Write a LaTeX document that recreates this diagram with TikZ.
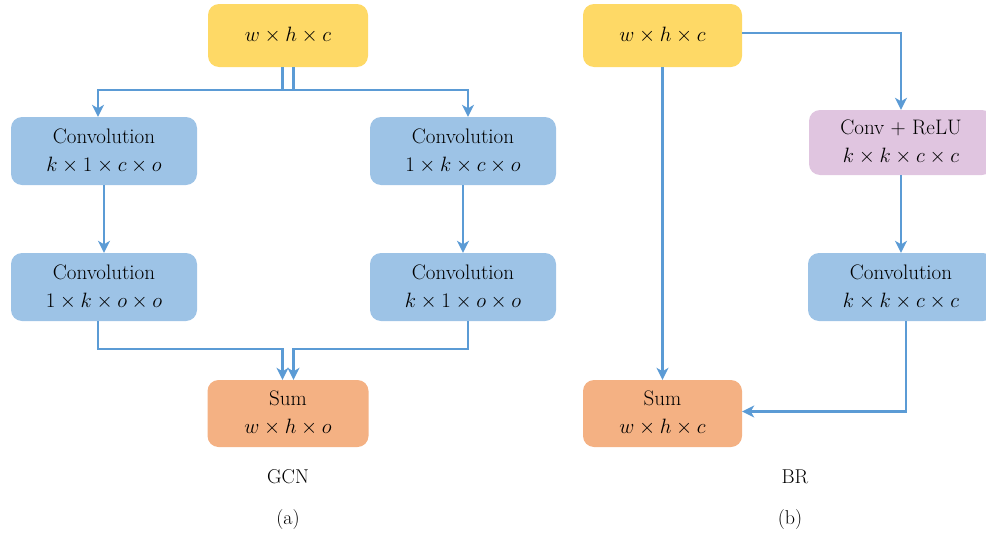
\documentclass[tikz,border=0pt]{standalone}
\usepackage{fontspec}
\usetikzlibrary{arrows.meta,calc}
\definecolor{yel}{HTML}{FED966}
\definecolor{blu}{HTML}{9DC3E6}
\definecolor{ora}{HTML}{F4B183}
\definecolor{pnk}{HTML}{E0C5E0}
\definecolor{lin}{HTML}{5B9BD5}
\begin{document}
\begin{tikzpicture}[x=1pt,y=-1pt,
 box/.style={rectangle, rounded corners=11pt, align=center, inner sep=0pt, font=\fontsize{21}{28}\selectfont},
 lbl/.style={inner sep=0pt, font=\fontsize{20}{22}\selectfont},
 conn/.style={draw=lin, line width=2.2pt, -{Stealth[length=12pt,width=12pt,inset=3.5pt]}}]
\useasboundingbox (0,0) rectangle (986,533);
\clip (0,0) rectangle (986,533);
% GCN
\node[box, fill=yel, minimum width=160pt, minimum height=63pt] (t1) at (288,35.5) {$w\times h\times c$};
\node[box, fill=blu, minimum width=186pt, minimum height=68pt] (c1) at (104,151) {Convolution\\$k\times 1\times c\times o$};
\node[box, fill=blu, minimum width=186pt, minimum height=68pt] (c2) at (463,151) {Convolution\\$1\times k\times c\times o$};
\node[box, fill=blu, minimum width=186pt, minimum height=68pt] (c3) at (104,287) {Convolution\\$1\times k\times o\times o$};
\node[box, fill=blu, minimum width=186pt, minimum height=68pt] (c4) at (463,287) {Convolution\\$k\times 1\times o\times o$};
\node[box, fill=ora, minimum width=161pt, minimum height=67pt] (s1) at (288,413.5) {Sum\\$w\times h\times o$};
\node[lbl] (g) at (288,477) {GCN};
\node[lbl] (a) at (288,520) {(a)};
\draw[conn] ([xshift=5.5pt]t1.south) -- ++(0,23) -| ([xshift=-6pt]c1.north);
\draw[conn] ([xshift=-5.5pt]t1.south) -- ++(0,23) -| ([xshift=5pt]c2.north);
\draw[conn] (c1) -- (c3);
\draw[conn] (c2) -- (c4);
\draw[conn] ([xshift=-6pt]c3.south) -- ++(0,28) -| ([xshift=-5.5pt]s1.north);
\draw[conn] ([xshift=5pt]c4.south) -- ++(0,28) -| ([xshift=5.5pt]s1.north);
% BR
\node[box, fill=yel, minimum width=159pt, minimum height=63pt] (t2) at (662.5,35.5) {$w\times h\times c$};
\node[box, fill=pnk, minimum width=184pt, minimum height=65pt] (p) at (901,142.5) {Conv + ReLU\\$k\times k\times c\times c$};
\node[box, fill=blu, minimum width=186pt, minimum height=68pt] (c5) at (901,287) {Convolution\\$k\times k\times c\times c$};
\node[box, fill=ora, minimum width=159pt, minimum height=67pt] (s2) at (662.5,413.5) {Sum\\$w\times h\times c$};
\node[lbl] (b1) at (795,477) {BR};
\node[lbl] (b2) at (790,520) {(b)};
\draw[conn] (t2) -- (s2);
\draw[conn] ([yshift=2.5pt]t2.east) -| (p.north);
\draw[conn] (p) -- (c5);
\draw[conn] ([xshift=5pt]c5.south) |- ([yshift=2pt]s2.east);
\end{tikzpicture}
\end{document}
